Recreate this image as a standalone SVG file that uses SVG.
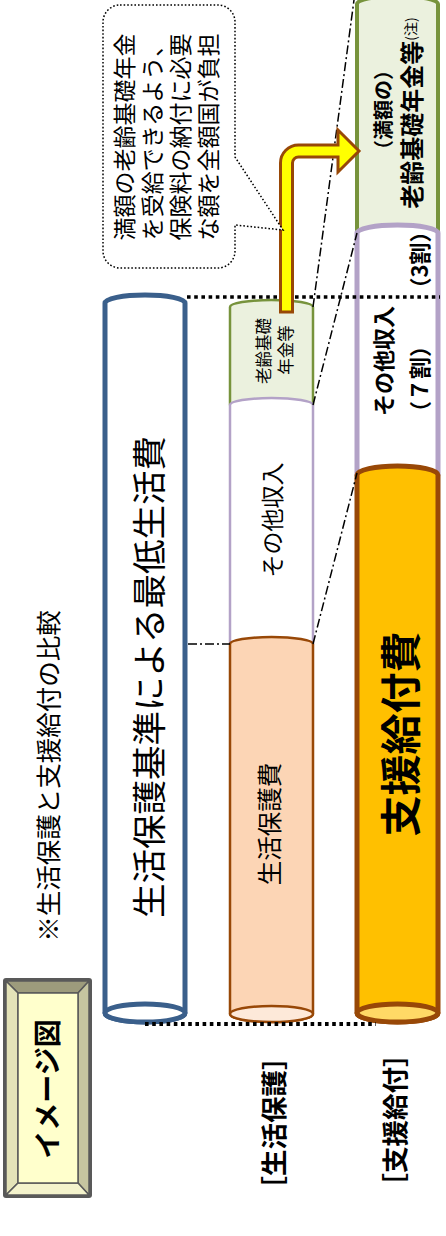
<svg xmlns="http://www.w3.org/2000/svg" width="446" height="1236" viewBox="0 0 446 1236">
<style>
text{font-family:"Noto Sans CJK JP","Liberation Sans",sans-serif;fill:#000;text-anchor:middle;dominant-baseline:central}
.b{font-weight:bold}
.dd{fill:none;stroke:#000;stroke-width:1.5;stroke-dasharray:9 3 2 3}
.dot{fill:none;stroke:#000;stroke-dasharray:3.6 3.6}
.grn{fill:#ebf1de;stroke:#77933c}
.pur{fill:#fff;stroke:#b3a2c7}
.brn{stroke:#984807}
</style>
<rect width="446" height="1236" fill="#fff"/>

<g id="title-box">
<rect x="3" y="978" width="89" height="220" rx="3" fill="#595959"/>
<polygon points="6,981 89,981 78,993 18,993" fill="#9d9b7c" stroke="#595959" stroke-width="1.5"/>
<polygon points="6,981 18,993 18,1183 6,1195" fill="#e4e3b8" stroke="#595959" stroke-width="1.5"/>
<polygon points="89,981 89,1195 78,1183 78,993" fill="#c6c5a0" stroke="#595959" stroke-width="1.5"/>
<polygon points="6,1195 18,1183 78,1183 89,1195" fill="#f4f3cc" stroke="#595959" stroke-width="1.5"/>
<rect x="18" y="993" width="60" height="190" fill="#ffffcc" stroke="#595959" stroke-width="1.5"/>
<text class="b" font-size="28" transform="translate(46,1089) rotate(-90)">イメージ図</text>
</g>

<g id="caption">
<text font-size="25.5" transform="translate(46,776) rotate(-90)">※生活保護と支援給付の比較</text>
</g>

<g id="minimum-living-cost">
<path d="M105,303 A40,8 0 0 1 185,303 L185,1013 A40,9 0 0 1 105,1013 Z" fill="#fff" stroke="#3a5f8b" stroke-width="5"/>
<ellipse cx="145" cy="1013" rx="40" ry="9" fill="#fff" stroke="#3a5f8b" stroke-width="5"/>
<text font-size="34.5" transform="translate(147,677) rotate(-90)">生活保護基準による最低生活費</text>
</g>

<g id="welfare-pension">
<path class="grn" stroke-width="2.5" d="M230,307 A41.5,7 0 0 1 313,307 L313,405 A41.5,7 0 0 1 230,405 Z"/>
<text font-size="16.5" transform="translate(263,351) rotate(-90)">老齢基礎</text>
<text font-size="16.5" transform="translate(285,350) rotate(-90)">年金等</text>
</g>
<g id="welfare-other">
<path class="pur" stroke-width="2.5" d="M230,405 A41.5,7 0 0 1 313,405 L313,644 A41.5,7 0 0 1 230,644 Z"/>
<text font-size="23" transform="translate(271,520) rotate(-90)">その他収入</text>
</g>
<g id="welfare-expense">
<path class="brn" fill="#fcd5b5" stroke-width="2.5" d="M230,644 A41.5,7 0 0 1 313,644 L313,1014 A41.5,8 0 0 1 230,1014 Z"/>
<ellipse class="brn" cx="271.5" cy="1014" rx="41.5" ry="8" fill="#fde9d9" stroke-width="2.5"/>
<text font-size="24.5" transform="translate(268,824) rotate(-90)">生活保護費</text>
</g>

<g id="support-pension">
<path class="grn" stroke-width="4" d="M357,4 A40.5,8 0 0 1 438,4 L438,233 A40.5,8 0 0 1 357,233 Z"/>
<text class="b" font-size="20" transform="translate(382,110) rotate(-90)">（満額の）</text>
<text class="b" font-size="24" transform="translate(410,113) rotate(-90)">老齢基礎年金等<tspan font-size="14" font-weight="normal">(注)</tspan></text>
</g>
<g id="support-other">
<path class="pur" stroke-width="5" d="M357,233 A40.5,8 0 0 1 438,233 L438,475 A40.5,9 0 0 1 357,475 Z"/>
<text class="b" font-size="22" transform="translate(382,361) rotate(-90)">その他収入</text>
<text class="b" font-size="22" transform="translate(418,379) rotate(-90)">（７割）</text>
<text class="b" font-size="22" transform="translate(418,260) rotate(-90)">（3割）</text>
</g>
<g id="support-benefit">
<path class="brn" fill="#ffc000" stroke-width="5" d="M357,475 A40.5,9 0 0 1 438,475 L438,1013 A40.5,9 0 0 1 357,1013 Z"/>
<ellipse class="brn" cx="397.5" cy="1013" rx="40.5" ry="9" fill="#ffd966" stroke-width="5"/>
<text class="b" font-size="41" transform="translate(398,734) rotate(-90)">支援給付費</text>
</g>

<g id="connectors">
<line class="dot" x1="187" y1="297" x2="440" y2="297" stroke-width="3.5"/>
<line class="dot" x1="145" y1="1024" x2="376" y2="1024" stroke-width="3.8" stroke-dasharray="4 4"/>
<line class="dd" x1="188" y1="644" x2="230" y2="644"/>
<line class="dd" x1="313" y1="307" x2="354" y2="0"/>
<line class="dd" x1="313" y1="405" x2="357" y2="233"/>
<line class="dd" x1="313" y1="644" x2="357" y2="473"/>
</g>

<g id="arrow">
<path d="M280.5,312 L280.5,163 A18,18 0 0 1 298.5,145 L338,145 L338,130 L359,151 L338,172 L338,157 L298.5,157 A6,6 0 0 0 292.5,163 L292.5,312 Z" fill="#ffff00" stroke="#984807" stroke-width="3" stroke-linejoin="miter"/>
</g>

<g id="callout">
<path d="M120,5 H218 A17,17 0 0 1 235,22 V157 L283,230 L235,225 V251 A17,17 0 0 1 218,268 H120 A17,17 0 0 1 103,251 V22 A17,17 0 0 1 120,5 Z" fill="#fff" stroke="#000" stroke-width="1.5" stroke-dasharray="1.6 2"/>
<text font-size="23" transform="translate(123,137) rotate(-90)">満額の老齢基礎年金</text>
<text font-size="23" transform="translate(151,137) rotate(-90)">を受給できるよう、</text>
<text font-size="23" transform="translate(179,137) rotate(-90)">保険料の納付に必要</text>
<text font-size="23" transform="translate(207,137) rotate(-90)">な額を全額国が負担</text>
</g>

<g id="labels">
<text class="b" font-size="26.5" transform="translate(272,1123) rotate(-90)">［生活保護］</text>
<text class="b" font-size="26.5" transform="translate(393,1120) rotate(-90)">［支援給付］</text>
</g>
</svg>
